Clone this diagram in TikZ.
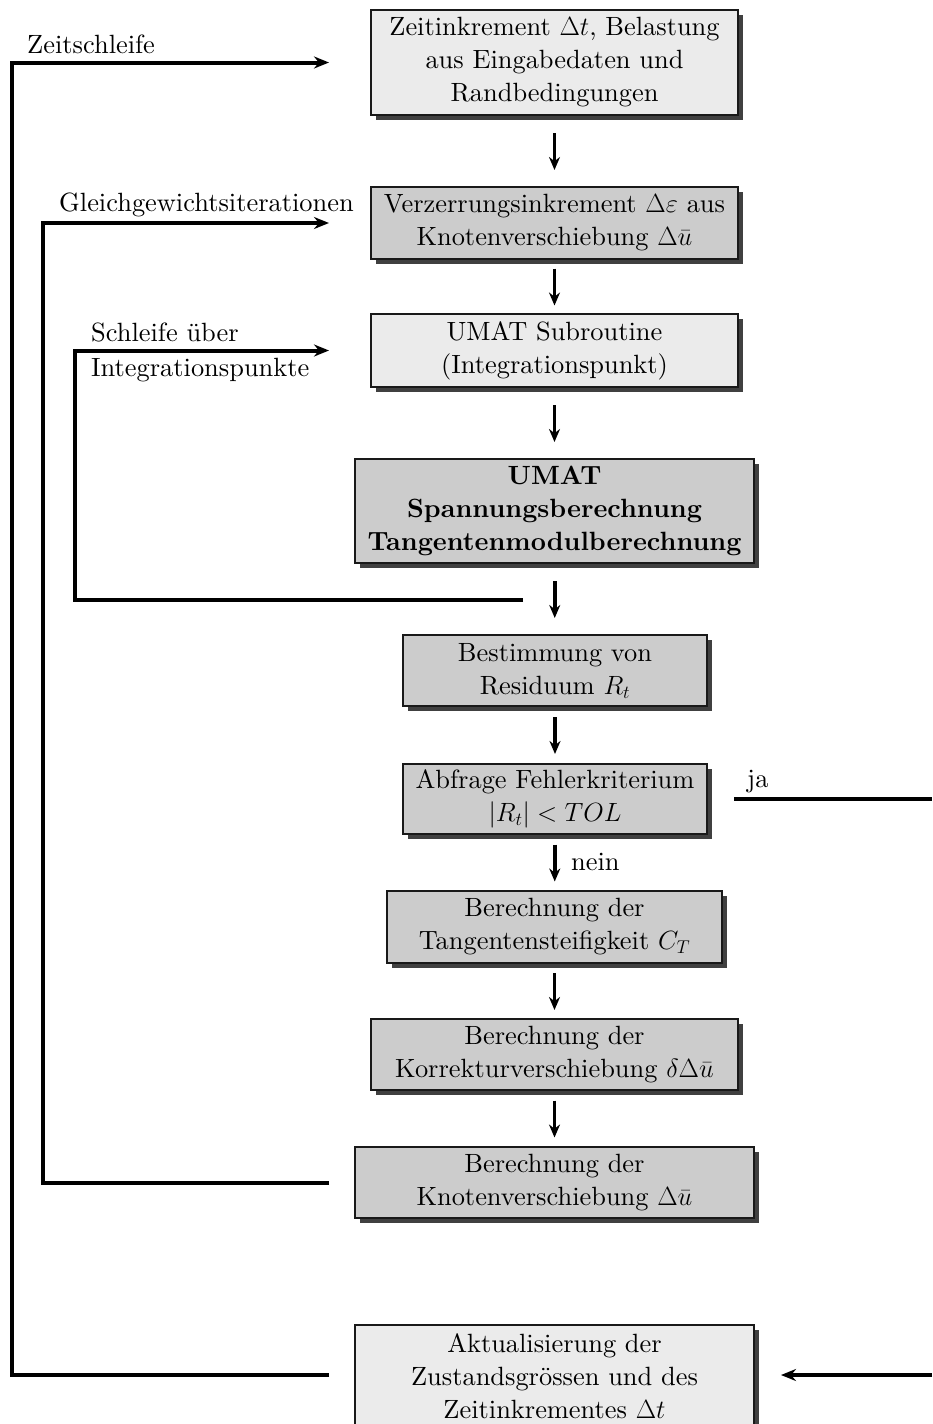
\RequirePackage{fix-cm}
\documentclass[tikz,border=0pt]{standalone}
\usepackage{fontspec}
\setmainfont{lmroman10-regular.otf}[BoldFont=lmroman10-bold.otf, ItalicFont=lmroman10-italic.otf]
\usetikzlibrary{shadows,arrows.meta,calc}
\begin{document}
\begin{tikzpicture}[x=1pt,y=-1pt,
  txt/.style={font=\fontsize{26.4}{33}\selectfont},
  box/.style={txt, draw=black!90, line width=2pt, align=center, inner sep=0pt,
    drop shadow={shadow xshift=5pt, shadow yshift=-5pt, fill=black!75, opacity=1}},
  light/.style={box, fill=black!8},
  dark/.style={box, fill=black!20},
  flow/.style={line width=3.5pt, -{Stealth[length=13pt,width=11pt]}},
  loop/.style={line width=4pt, -{Stealth[length=15pt,width=12pt]}},
  loopline/.style={line width=4pt},
  lbl/.style={txt, inner sep=0pt, anchor=base west}]
\useasboundingbox (0,0) rectangle (932,1424);

\node[light, minimum width=367pt, minimum height=105pt] (b1) at (554.5,62.5)
  {Zeitinkrement $\Delta t$, Belastung\\aus Eingabedaten und\\Randbedingungen};
\node[dark, minimum width=367pt, minimum height=72pt] (b2) at (554.5,223)
  {Verzerrungsinkrement $\Delta\varepsilon$ aus\\Knotenverschiebung $\Delta\bar{u}$};
\node[light, minimum width=367pt, minimum height=73pt] (b3) at (554.5,350.5)
  {UMAT Subroutine\\(Integrationspunkt)};
\node[dark, minimum width=399pt, minimum height=104pt, font=\fontsize{26.4}{33}\selectfont\bfseries] (b4) at (554.5,511)
  {UMAT\\Spannungsberechnung\\Tangentenmodulberechnung};
\node[dark, minimum width=304pt, minimum height=71pt] (b5) at (555,670.5)
  {Bestimmung von\\Residuum $R_t$};
\node[dark, minimum width=304pt, minimum height=70pt] (b6) at (555,799)
  {Abfrage Fehlerkriterium\\$|R_t|<TOL$};
\node[dark, minimum width=335pt, minimum height=72pt] (b7) at (554.5,927)
  {Berechnung der\\Tangentensteifigkeit $C_T$};
\node[dark, minimum width=367pt, minimum height=71pt] (b8) at (554.5,1054.5)
  {Berechnung der\\Korrekturverschiebung $\delta\Delta\bar{u}$};
\node[dark, minimum width=399pt, minimum height=71pt] (b9) at (554.5,1182.5)
  {Berechnung der\\Knotenverschiebung $\Delta\bar{u}$};
\node[light, minimum width=399pt, minimum height=102pt] (b10) at (554.5,1376)
  {Aktualisierung der\\Zustandsgr\"ossen und des\\Zeitinkrementes $\Delta t$};

% main flow: fixed-length arrows centred in the gaps
\foreach \a/\b in {b1/b2,b2/b3,b3/b4,b4/b5,b5/b6,b6/b7,b7/b8,b8/b9}{
  \draw[flow] ($(\a.south)!.5!(\b.north)+(0,-18)$) -- ($(\a.south)!.5!(\b.north)+(0,19)$);
}

% loop coordinates
\coordinate (x1) at (12,0);
\coordinate (x2) at (43,0);
\coordinate (x3) at (75,0);
\coordinate (l1s) at ([xshift=-25pt,yshift=1pt]b10.west);
\coordinate (l2s) at ([xshift=-25pt]b9.west);
\coordinate (l3s) at (523,600);
\coordinate (jas) at ([xshift=26pt]b6.east);
\coordinate (jae) at (932,799);
\coordinate (rs) at (932,1375);

% Zeitschleife
\draw[loop] (l1s) -| (x1 |- b1.west) -- ([xshift=-41pt]b1.west);
% Gleichgewichtsiterationen
\draw[loop] (l2s) -| (x2 |- b2.west) -- ([xshift=-41pt]b2.west);
% Integrationspunkte
\draw[loop] (l3s) -| (x3 |- b3.west) -- ([xshift=-41pt]b3.west);
% ja
\draw[loopline] (jas) -- (jae);
\draw[loop, shorten >=26pt] (rs) -- (b10.east |- rs);

% labels
\node[lbl] (lz) at (27,53) {Zeitschleife};
\node[lbl] (lg) at (59,211) {Gleichgewichtsiterationen};
\node[lbl] (ls1) at (91,341) {Schleife \"uber};
\node[lbl] (ls2) at (91,376) {Integrationspunkte};
\node[lbl] (lja) at (747,787) {ja};
\node[lbl] (lnein) at (571,870) {nein};
\end{tikzpicture}
\end{document}
